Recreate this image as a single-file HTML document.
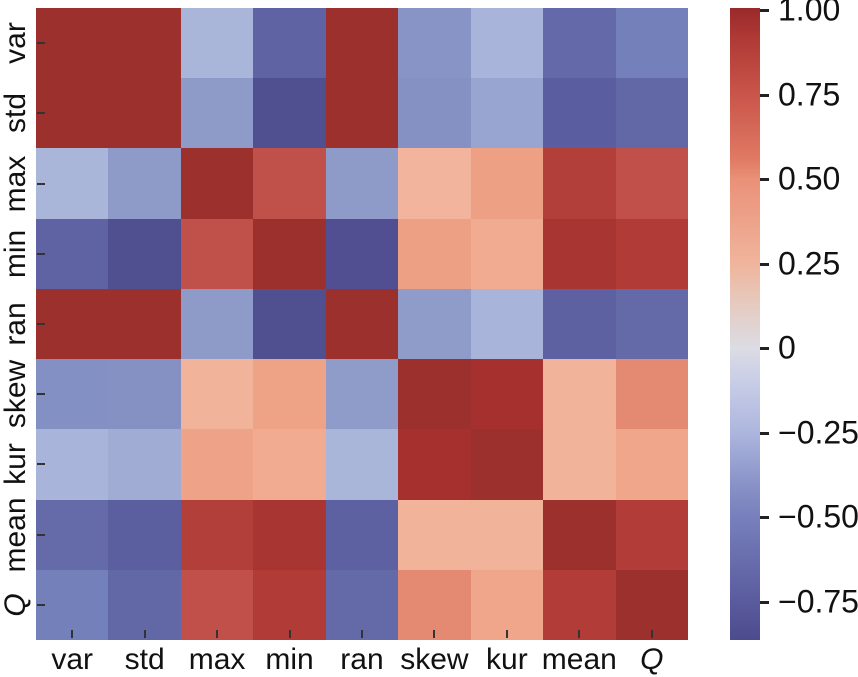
<!DOCTYPE html>
<html><head><meta charset="utf-8"><style>
body{margin:0;width:858px;height:674px;background:#fff;position:relative;overflow:hidden;font-family:"Liberation Sans",sans-serif;color:#111}
#hm{position:absolute;left:36px;top:8px;width:652px;height:632px;display:grid;grid-template-columns:repeat(9,1fr);grid-template-rows:repeat(9,1fr)}
.xl{position:absolute;top:643px;font-size:30px;width:100px;text-align:center}
.yl{position:absolute;left:16px;font-size:30px;transform:translate(-50%,-50%) rotate(-90deg);white-space:nowrap}
.lt{position:absolute;left:37px;width:8px;height:2px;background:#333}
.bt{position:absolute;top:630px;width:2px;height:8px;background:#333}
#cb{position:absolute;left:730px;top:8px;width:30px;height:632px;background:linear-gradient(to bottom,#992a2a 0%,#b03a36 5%,#c9554a 13.7%,#e07a64 24%,#ea9178 27.1%,#f0b49c 40.4%,#e5cbc0 47%,#dcdce4 53.8%,#c5cbe6 60%,#adb6de 67.2%,#8a94c8 75%,#7780bc 80.5%,#5a5b9e 93.9%,#4c4b8e 100%)}
.ct{position:absolute;left:760px;width:9px;height:3px;background:#222}
.cl{position:absolute;left:778px;font-size:32px;transform:translateY(-50%)}
</style></head><body>
<div id="hm"></div>
<div id="cb"></div>
<script>
var d='#9c302c';
var R=[
[d,d,'#aab5da','#5f62a3',d,'#8894c6','#a8b4da','#646aa9','#7480b9'],
[d,d,'#8e9bc8','#504f90',d,'#8591c3','#98a5d0','#5a5d9f','#6268a6'],
['#aab5da','#8e9bc8',d,'#c0504a','#8e9bc8','#f2b49c','#eea085','#b33f3b','#c14f4a'],
['#5f62a3','#504f90','#c0504a',d,'#514f91','#eea085','#f0ab91','#a83532','#b03b37'],
[d,d,'#8e9bc8','#504f90',d,'#8f9bc9','#a9b4da','#5d60a1','#6469a7'],
['#8390c4','#8591c3','#f2b39b','#eea387','#8f9bc9',d,'#a6302e','#f2b39b','#e58a72'],
['#a9b4da','#a0acd4','#eea287','#f0ab91','#aab5da','#a6302e',d,'#f2b39b','#efa68b'],
['#656ba9','#5b5fa0','#b33f3b','#a83532','#5d60a1','#f2b39b','#f2b39b',d,'#b13c38'],
['#7480b9','#6268a6','#c14f4a','#b03b37','#6469a7','#e58a72','#efa68b','#b13c38',d]];
var h='';R.forEach(r=>r.forEach(c=>h+='<div style="background:'+c+'"></div>'));
document.getElementById('hm').innerHTML=h;
var L=['var','std','max','min','ran','skew','kur','mean','Q'];
var o='';
L.forEach((l,i)=>{var cx=36+72.44*(i+0.5),cy=8+70.2*(i+0.5);
var t=l=='Q'?'<i>Q</i>':l;
o+='<div class="xl" style="left:'+(cx-50)+'px">'+t+'</div>';
o+='<div class="yl" style="top:'+cy+'px">'+t+'</div>';
o+='<div class="lt" style="top:'+(cy-1)+'px"></div>';
o+='<div class="bt" style="left:'+(cx-1)+'px"></div>';});
var T=['1.00','0.75','0.50','0.25','0','\u22120.25','\u22120.50','\u22120.75'];
T.forEach((t,i)=>{var y=10+i*84.5;o+='<div class="ct" style="top:'+(y-1)+'px"></div><div class="cl" style="top:'+y+'px">'+t+'</div>';});
document.body.insertAdjacentHTML('beforeend',o);
</script>
</body></html>
